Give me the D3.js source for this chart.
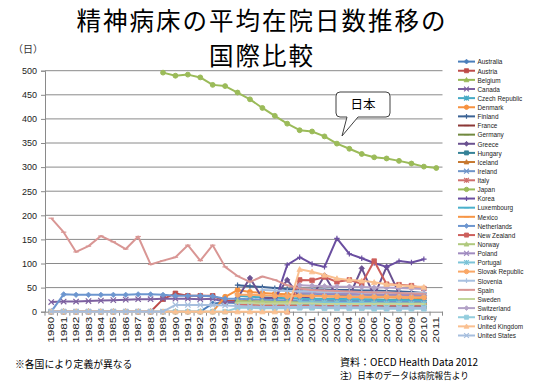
<!DOCTYPE html>
<html><head><meta charset="utf-8">
<script src="https://cdn.jsdelivr.net/npm/d3@7"></script>
<style>
body{margin:0;background:#fff;}
svg{display:block;}
</style></head>
<body><svg id="c" width="551" height="383"></svg>
<script>
const _ = null;
const years = d3.range(1980, 2012).map(String);
const yTicks = [0,50,100,150,200,250,300,350,400,450,500];

const australia   = [0,0,0,0,0,0,0,0,0,0,0,0,0,17,19,18,17,17,16,16,15,16,16,15,15,16,16,15,15,15,14,_];
const austria     = [0,0,0,0,0,0,0,0,0,26,38,33,33,33,22,23,22,21,20,19,18,18,17,17,16,16,15,15,15,15,15,_];
const belgium     = [_,_,_,_,_,_,_,_,_,_,_,_,_,_,_,_,_,_,12,12,11,11,11,11,11,10,10,10,10,10,10,_];
const canada      = [20,21,21,22,23,24,25,26,26,27,27,27,26,27,20,20,19,19,20,20,20,21,21,21,20,20,20,20,19,19,19,_];
const czech       = [_,_,_,_,_,_,_,_,_,_,_,_,_,_,_,33,31,30,29,28,28,27,27,27,26,26,26,25,25,25,24,_];
const denmark     = [0,0,0,0,0,0,0,0,0,0,0,0,0,0,31,45,41,39,37,36,35,33,32,31,31,30,30,30,29,29,28,_];
const finland     = [_,_,_,_,_,_,_,_,_,_,_,_,_,_,_,55,53,51,49,47,46,46,46,45,45,44,44,43,42,41,39,_];
const france      = [_,_,_,_,_,_,_,_,_,_,_,_,_,_,_,_,_,_,_,_,12,12,12,11,11,11,11,11,11,11,11,_];
const germany     = [_,_,_,_,_,_,_,_,_,_,_,_,_,_,_,_,_,_,_,_,26,25,25,24,24,24,23,23,23,23,23,_];
const greece      = [_,_,_,_,_,_,_,_,_,_,_,_,_,_,_,28,70,28,29,66,31,30,75,33,32,90,33,93,38,35,33,_];
const hungary     = [_,_,_,_,_,_,_,_,_,_,_,_,_,_,_,20,19,18,17,16,16,15,15,14,14,14,13,13,13,13,13,_];
const iceland     = [_,_,_,_,_,_,_,_,_,_,_,_,_,_,_,_,_,_,_,_,24,25,23,22,21,22,20,21,20,19,19,_];
const ireland     = [_,_,_,_,_,_,_,_,_,_,_,_,_,_,_,_,_,_,_,_,38,37,36,36,35,35,34,34,33,33,32,_];
const italy       = [_,_,_,_,_,_,_,_,_,_,_,_,_,_,_,14,14,13,13,13,13,13,13,13,13,13,13,13,13,13,13,_];
const japan       = [_,_,_,_,_,_,_,_,_,496.0,489.6,491.9,486.1,470.6,468.1,454.7,440.6,422.7,406.4,390.1,376.5,373.9,363.7,348.7,338.0,327.2,320.3,317.9,312.9,307.4,301.0,298.1];
const korea       = [_,_,_,_,_,_,_,_,_,_,_,_,_,_,_,_,_,_,20,97,113,99,93,152,120,111,101,93,105,102,109,_];
const luxembourg  = [_,_,_,_,_,_,_,_,_,_,_,_,_,_,_,_,_,_,_,_,27,26,26,25,25,25,24,24,24,24,23,_];
const mexico      = [_,_,_,_,_,_,_,_,_,_,_,_,_,_,_,18,18,17,17,17,18,18,17,17,17,16,16,16,16,16,16,_];
const netherlands = [0,36,35,35,35,35,35,36,36,35,33,33,33,32,27,27,26,25,24,24,23,22,22,21,21,21,20,20,20,20,20,_];
const newzealand  = [_,_,_,_,_,_,_,_,_,_,_,_,_,_,_,_,_,_,_,0,66,65,72,62,66,58,105,57,56,54,48,_];
const norway      = [_,_,_,_,_,_,_,_,_,_,_,_,_,_,_,22,21,21,20,20,19,19,19,18,18,18,18,17,17,17,17,_];
const poland      = [_,_,_,_,_,_,_,_,_,_,_,_,_,_,_,_,_,_,_,_,40,39,38,38,37,36,36,35,35,34,34,_];
const portugal    = [_,_,_,_,_,_,_,_,_,_,_,_,_,_,_,_,_,_,_,_,20,19,19,18,18,18,17,17,17,16,16,_];
const slovak      = [_,_,_,_,_,_,_,_,_,_,_,_,_,_,_,35,35,34,33,32,33,32,32,32,31,31,31,31,31,30,30,_];
const slovenia    = [_,_,_,_,_,_,_,_,_,_,_,_,_,_,_,_,_,45,44,43,42,42,41,41,41,40,40,40,39,39,39,_];
const spain       = [194,165,124,136,157,145,130,156,98,106,113,138,106,138,93,74,62,73,66,55,48,45,44,43,42,41,40,40,39,38,37,_];
const sweden      = [_,_,_,_,_,_,_,_,_,_,_,_,_,_,_,18,18,17,17,17,17,17,16,16,16,16,16,16,16,16,16,_];
const switzerland = [_,_,_,_,_,_,_,_,_,_,_,_,_,_,_,_,_,_,_,_,55,54,53,52,52,51,50,50,49,48,47,_];
const turkey      = [0,0,0,0,0,0,0,0,0,0,0,0,0,0,0,8,8,7,7,7,8,8,7,7,7,7,6,6,6,6,6,_];
const uk          = [0,0,0,0,0,0,0,0,0,0,0,0,0,0,0,0,0,0,0,0,88,83,76,69,66,64,61,57,55,53,51,_];
const us          = [0,0,0,0,0,0,0,0,0,0,14,14,14,14,13,12,11,10,10,10,10,10,9,9,9,9,9,8,8,8,8,_];

const countries = ["Australia","Austria","Belgium","Canada","Czech Republic","Denmark","Finland","France","Germany","Greece","Hungary","Iceland","Ireland","Italy","Japan","Korea","Luxembourg","Mexico","Netherlands","New Zealand","Norway","Poland","Portugal","Slovak Republic","Slovenia","Spain","Sweden","Switzerland","Turkey","United Kingdom","United States"];
const seriesValues = [australia,austria,belgium,canada,czech,denmark,finland,france,germany,greece,hungary,iceland,ireland,italy,japan,korea,luxembourg,mexico,netherlands,newzealand,norway,poland,portugal,slovak,slovenia,spain,sweden,switzerland,turkey,uk,us];
const colors = ["#4a7ebb","#be4b48","#98b954","#7d60a0","#46aac5","#f69240","#3c6395","#8c3836","#71893f","#6a5190","#358297","#c7782f","#6f95c9","#cf6f6c","#9bbb59","#6a4ea0","#4bb0cb","#f79646","#6d96cf","#cd5f5c","#b0c97e","#a08bc0","#7cc4d8","#f9a766","#a8c0e0","#d99694","#c3d69b","#b3a2c7","#93cddd","#fac090","#a7bfde"];
const shapes = ["diamond","square","triangle","x","star","circle","plus","dash","dash"];

const svg = d3.select("#c");
const x = d3.scaleBand().domain(years).range([45, 442.5]).padding(0);
const y = d3.scaleLinear().domain([0,500]).range([311.7, 70.7]);
const cx = d => x(d) + x.bandwidth()/2;

// gridlines
svg.append("g").selectAll("line").data(yTicks.filter(t=>t>0)).join("line")
  .attr("x1",45).attr("x2",442.5).attr("y1",d=>y(d)).attr("y2",d=>y(d))
  .attr("stroke","#8a8a8a").attr("stroke-width",1);

// y axis
const yAxis = svg.append("g").attr("transform","translate(45,0)")
  .call(d3.axisLeft(y).tickValues(yTicks).tickSize(4).tickPadding(4));
yAxis.select(".domain").attr("stroke","#8a8a8a");
yAxis.selectAll(".tick line").attr("stroke","#8a8a8a");
yAxis.selectAll("text").attr("font-family","Liberation Sans, Arial, sans-serif").attr("font-size",9).attr("fill","#222");

// x axis
const xAxis = svg.append("g").attr("transform","translate(0,311.7)")
  .call(d3.axisBottom(x).tickSize(0).tickFormat(d=>d));
xAxis.select(".domain").attr("stroke","#8a8a8a");
xAxis.selectAll(".tick text")
  .attr("font-family","Liberation Sans, Arial, sans-serif").attr("font-size",9).attr("fill","#222")
  .attr("transform","rotate(-90)").attr("text-anchor","end").attr("dy","0.35em").attr("x",-5).attr("y",0)
  .attr("textLength",26).attr("lengthAdjust","spacingAndGlyphs");
svg.append("g").selectAll("line").data(years.concat(["end"])).join("line")
  .attr("x1",(d,i)=>45+i*x.bandwidth()).attr("x2",(d,i)=>45+i*x.bandwidth())
  .attr("y1",311.7).attr("y2",315.7).attr("stroke","#8a8a8a");

function markerPath(shape, r){
  switch(shape){
    case "diamond": return `M0,${-r}L${r},0L0,${r}L${-r},0Z`;
    case "square": return `M${-r*0.85},${-r*0.85}h${r*1.7}v${r*1.7}h${-r*1.7}Z`;
    case "triangle": return `M0,${-r}L${r},${r*0.8}L${-r},${r*0.8}Z`;
    case "x": return `M${-r},${-r}L${r},${r}M${-r},${r}L${r},${-r}`;
    case "star": return `M${-r},${-r}L${r},${r}M${-r},${r}L${r},${-r}M0,${-r}L0,${r}`;
    case "plus": return `M0,${-r}L0,${r}M${-r},0L${r},0`;
    case "dash": return `M${-r},0L${r},0`;
  }
  return "";
}
function drawMarker(g, shape, color, px, py, r){
  if(shape==="circle"){
    g.append("circle").attr("cx",px).attr("cy",py).attr("r",r*0.9).attr("fill",color).attr("stroke",color);
  } else {
    const filled = ["diamond","square","triangle"].includes(shape);
    g.append("path").attr("d",markerPath(shape,r)).attr("transform",`translate(${px},${py})`)
      .attr("fill",filled?color:"none").attr("stroke",color).attr("stroke-width",filled?0.8:1.2);
  }
}

const line = d3.line().defined(d=>d.v!=null).x(d=>cx(d.yr)).y(d=>y(d.v));
const plot = svg.append("g");
seriesValues.forEach((vals,i)=>{
  const pts = years.map((yr,j)=>({yr, v: vals[j]}));
  const g = plot.append("g");
  g.append("path").datum(pts).attr("d",line).attr("fill","none")
    .attr("stroke",colors[i]).attr("stroke-width",2).attr("stroke-linejoin","round");
  pts.filter(p=>p.v!=null).forEach(p=>drawMarker(g, shapes[i%9], colors[i], cx(p.yr), y(p.v), 2.7));
});

// legend
const lg = svg.append("g");
countries.forEach((c,i)=>{
  const ly = 61.6 + i*9.13;
  lg.append("line").attr("x1",458).attr("x2",475).attr("y1",ly).attr("y2",ly).attr("stroke",colors[i]).attr("stroke-width",2);
  drawMarker(lg, shapes[i%9], colors[i], 466.5, ly, 2.4);
  const t = lg.append("text").attr("x",477.5).attr("y",ly+2.8).text(c)
    .attr("font-family","Liberation Sans, Arial, sans-serif").attr("font-size",8).attr("fill","#222");
  const L = t.node().getComputedTextLength();
  t.attr("textLength",L*0.8).attr("lengthAdjust","spacingAndGlyphs");
});

// callout
const cg = svg.append("g");
cg.append("path")
  .attr("d","M340,92 H386 Q390,92 390,96 V113 Q390,117 386,117 H358 L342,136 L347,117 H340 Q336,117 336,113 V96 Q336,92 340,92 Z")
  .attr("fill","#fff").attr("stroke","#404040").attr("stroke-width",1);
cg.append("text").attr("x",363).attr("y",109).attr("text-anchor","middle")
  .attr("font-family","Noto Sans CJK JP").attr("font-size",12.5).attr("fill","#000").text("日本");

// title
const tf = "Noto Sans CJK JP";
svg.append("text").attr("x",262).attr("y",29.5).attr("text-anchor","middle").attr("font-family",tf)
  .attr("font-size",24.5).attr("letter-spacing",2).attr("fill","#000").text("精神病床の平均在院日数推移の");
svg.append("text").attr("x",262).attr("y",65).attr("text-anchor","middle").attr("font-family",tf)
  .attr("font-size",24.5).attr("letter-spacing",2).attr("fill","#000").text("国際比較");

svg.append("text").attr("x",13).attr("y",53).attr("font-family",tf).attr("font-size",10).attr("fill","#333").text("（日）");

svg.append("text").attr("x",15).attr("y",368).attr("font-family",tf).attr("font-size",9.8).attr("fill","#000").text("※各国により定義が異なる");
svg.append("text").attr("x",340).attr("y",366).attr("font-family",tf).attr("font-size",10).attr("fill","#000").text("資料：OECD Health Data 2012");
svg.append("text").attr("x",340).attr("y",378.5).attr("font-family",tf).attr("font-size",8.6).attr("fill","#000").text("注）日本のデータは病院報告より");
</script></body></html>
